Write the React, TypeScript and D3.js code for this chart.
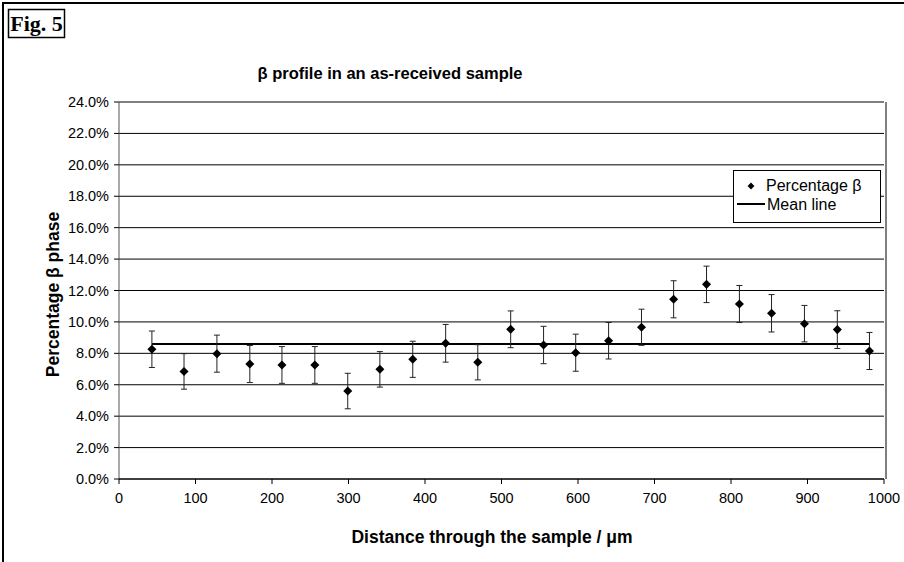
import React from "react";
import * as d3 from "d3";

const distances = [43, 85, 128, 171, 213, 256, 299, 341, 384, 427, 469, 512, 555, 597, 640, 683, 725, 768, 811, 853, 896, 939, 981];
const percentBeta = [8.26, 6.85, 7.98, 7.32, 7.26, 7.26, 5.6, 6.98, 7.62, 8.64, 7.43, 9.53, 8.53, 8.04, 8.8, 9.66, 11.44, 12.39, 11.14, 10.55, 9.89, 9.51, 8.15];
const errors = [1.16, 1.13, 1.18, 1.18, 1.17, 1.17, 1.13, 1.13, 1.15, 1.2, 1.12, 1.17, 1.19, 1.18, 1.16, 1.15, 1.18, 1.16, 1.18, 1.19, 1.16, 1.2, 1.18];
const meanValue = 8.6;
const xTicks = [0, 100, 200, 300, 400, 500, 600, 700, 800, 900, 1000];
const yTicks = [0, 2, 4, 6, 8, 10, 12, 14, 16, 18, 20, 22, 24];

const W = 904, H = 562;
const plot = { left: 119, right: 884, top: 102, bottom: 479 };
const sans = "'Liberation Sans', Arial, sans-serif";

export default function App() {
  const x = d3.scaleLinear().domain([0, 1000]).range([plot.left, plot.right]);
  const y = d3.scaleLinear().domain([0, 24]).range([plot.bottom, plot.top]);
  const diamond = d3.symbol().type(d3.symbolDiamond2).size(52);
  const dPath = diamond() as string;
  const meanLine = d3.line<number>().x((d) => x(d)).y(() => y(meanValue));
  return (
    <svg width={W} height={H} style={{ position: "fixed", left: 0, top: 0, background: "#fff" }}>
      <rect x={0} y={0} width={W} height={H} fill="#fff" />
      {/* outer frame */}
      <rect x={3} y={3} width={W + 10} height={H + 10} fill="none" stroke="#000" strokeWidth={2} />
      {/* Fig box */}
      <rect x={8.5} y={9.5} width={56} height={28} fill="#fff" stroke="#000" strokeWidth={1.5} />
      <text x={36.5} y={31} textAnchor="middle" fontFamily="'Liberation Serif', 'Times New Roman', serif" fontWeight="bold" fontSize={22}>Fig. 5</text>
      {/* title */}
      <text x={390} y={79} textAnchor="middle" fontFamily={sans} fontWeight="bold" fontSize={16.5}>β profile in an as-received sample</text>
      {/* gridlines */}
      {yTicks.map((t) => (
        <line key={"g" + t} x1={plot.left} x2={plot.right} y1={y(t)} y2={y(t)} stroke="#000" strokeWidth={1} />
      ))}
      {/* plot right border */}
      <line x1={plot.right + 2} x2={plot.right + 2} y1={plot.top} y2={plot.bottom} stroke="#000" strokeWidth={1} />
      {/* axes */}
      <line x1={plot.left} x2={plot.left} y1={plot.top} y2={plot.bottom} stroke="#555" strokeWidth={1} />
      <line x1={plot.left} x2={plot.right} y1={plot.bottom} y2={plot.bottom} stroke="#000" strokeWidth={1} />
      {yTicks.map((t) => (
        <g key={"yt" + t}>
          <line x1={plot.left - 5} x2={plot.left} y1={y(t)} y2={y(t)} stroke="#000" />
          <text x={plot.left - 10} y={y(t) + 5} textAnchor="end" fontFamily={sans} fontSize={14.5}>{t.toFixed(1) + "%"}</text>
        </g>
      ))}
      {xTicks.map((t) => (
        <g key={"xt" + t}>
          <line x1={x(t)} x2={x(t)} y1={plot.bottom} y2={plot.bottom + 5} stroke="#000" />
          <text x={x(t)} y={plot.bottom + 24} textAnchor="middle" fontFamily={sans} fontSize={14.5}>{t}</text>
        </g>
      ))}
      {/* axis titles */}
      <text x={492} y={543} textAnchor="middle" fontFamily={sans} fontWeight="bold" fontSize={17.5}>Distance through the sample / μm</text>
      <text transform={`translate(59,${(plot.top + plot.bottom) / 2 + 4}) rotate(-90)`} textAnchor="middle" fontFamily={sans} fontWeight="bold" fontSize={17.5}>Percentage β phase</text>
      {/* mean line */}
      <path d={meanLine([distances[0], distances[distances.length - 1]]) || ""} stroke="#000" strokeWidth={2} fill="none" />
      {/* error bars */}
      {distances.map((dx, i) => {
        const cx = x(dx);
        const top = y(percentBeta[i] + errors[i]);
        const bot = y(percentBeta[i] - errors[i]);
        return (
          <g key={"e" + i} stroke="#222" strokeWidth={1}>
            <line x1={cx} x2={cx} y1={top} y2={bot} />
            <line x1={cx - 3} x2={cx + 3} y1={top} y2={top} />
            <line x1={cx - 3} x2={cx + 3} y1={bot} y2={bot} />
          </g>
        );
      })}
      {/* points */}
      {distances.map((dx, i) => (
        <path key={"p" + i} d={dPath} transform={`translate(${x(dx)},${y(percentBeta[i])})`} fill="#000" />
      ))}
      {/* legend */}
      <rect x={733.5} y={170.5} width={147} height={52} fill="#fff" stroke="#000" strokeWidth={1} />
      <path d={d3.symbol().type(d3.symbolDiamond2).size(30)() as string} transform="translate(751,186)" fill="#000" />
      <text x={766} y={191} fontFamily={sans} fontSize={16}>Percentage β</text>
      <line x1={737} x2={765} y1={204} y2={204} stroke="#000" strokeWidth={2} />
      <text x={767} y={210} fontFamily={sans} fontSize={16}>Mean line</text>
    </svg>
  );
}
